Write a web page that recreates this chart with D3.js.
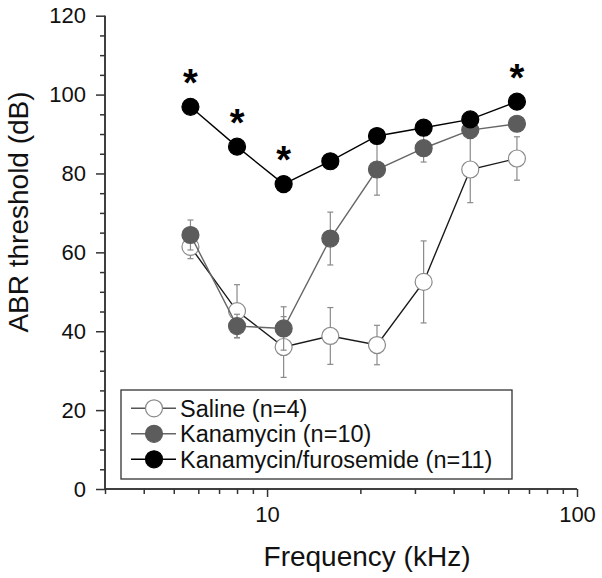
<!DOCTYPE html>
<html>
<head>
<meta charset="utf-8">
<script src="https://cdn.jsdelivr.net/npm/d3@7"></script>
<style>
  html, body { margin: 0; padding: 0; background: #fff; }
  svg { display: block; font-family: "Liberation Sans", Arial, sans-serif; }
</style>
</head>
<body>
<svg id="chart" width="602" height="578"></svg>
<script>
// ---- data ----
const frequencies = [5.66, 8, 11.31, 16, 22.63, 32, 45.25, 64];
const salineMean = [61.4, 45.1, 36.0, 38.8, 36.5, 52.5, 81.0, 83.8];
const salineErr  = [3.0, 6.7, 7.7, 7.2, 5.0, 10.4, 8.4, 5.5];
const kanaMean   = [64.4, 41.3, 40.7, 63.5, 81.0, 86.4, 91.0, 92.6];
const kanaErr    = [3.8, 3.0, 5.5, 6.7, 6.5, 3.5, 2.0, 1.5];
const kfMean     = [96.9, 86.8, 77.3, 83.1, 89.5, 91.6, 93.7, 98.2];
const kfErr      = [1.0, 1.0, 1.0, 1.0, 1.0, 1.0, 1.0, 1.0];
const significant = [5.66, 8, 11.31, 64];
const seriesNames = ["Saline (n=4)", "Kanamycin (n=10)", "Kanamycin/furosemide (n=11)"];
const yTicks = [0, 20, 40, 60, 80, 100, 120];
const xMajorTicks = [10, 100];

const series = [
  {name: seriesNames[0], mean: salineMean, err: salineErr, fill: "#ffffff", stroke: "#8a8a8a", line: "#1a1a1a", legendLine: "#555"},
  {name: seriesNames[1], mean: kanaMean, err: kanaErr, fill: "#5c5c5c", stroke: "#5c5c5c", line: "#666666", legendLine: "#666666"},
  {name: seriesNames[2], mean: kfMean, err: kfErr, fill: "#000000", stroke: "#000000", line: "#000000", legendLine: "#000000"}
];

const svg = d3.select("#chart");
const x = d3.scaleLog().domain([3, 100]).range([105, 577]);
const y = d3.scaleLinear().domain([0, 120]).range([489, 15.7]);
const axisColor = "#333";

// ---- axes ----
const minorX = [];
for (let d = 3; d < 100; d++) {
  if ((d < 10) || (d % 10 === 0 && d > 10)) minorX.push(d);
}
const xAxisMinor = d3.axisBottom(x).tickValues(minorX).tickSize(5).tickFormat("");
const xAxisMajor = d3.axisBottom(x).tickValues(xMajorTicks).tickSize(8).tickPadding(9).tickFormat(d3.format("d"));
const gxm = svg.append("g").attr("transform", `translate(0,${y(0)})`).call(xAxisMinor);
const gx = svg.append("g").attr("transform", `translate(0,${y(0)})`).call(xAxisMajor);
[gxm, gx].forEach(g => {
  g.select(".domain").attr("stroke", axisColor).attr("stroke-width", 1.5).attr("d", `M105,0H577`);
  g.selectAll(".tick line").attr("stroke", axisColor).attr("stroke-width", 1.5);
});
gx.selectAll(".tick text").attr("font-size", 22).attr("fill", "#111").attr("font-family", "Liberation Sans, Arial, sans-serif");

const minorY = d3.range(0, 121, 5).filter(v => v % 20 !== 0);
const yAxisMinor = d3.axisLeft(y).tickValues(minorY).tickSize(5).tickFormat("");
const yAxisMajor = d3.axisLeft(y).tickValues(yTicks).tickSize(9).tickPadding(10);
const gym = svg.append("g").attr("transform", `translate(${x(3)},0)`).call(yAxisMinor);
const gy = svg.append("g").attr("transform", `translate(${x(3)},0)`).call(yAxisMajor);
[gym, gy].forEach(g => {
  g.select(".domain").attr("stroke", axisColor).attr("stroke-width", 1.5).attr("d", `M0,${y(0)}V${y(120)}`);
  g.selectAll(".tick line").attr("stroke", axisColor).attr("stroke-width", 1.5);
});
gy.selectAll(".tick text").attr("font-size", 22).attr("fill", "#111").attr("font-family", "Liberation Sans, Arial, sans-serif");

// axis titles
svg.append("text").attr("x", 367).attr("y", 566).attr("text-anchor", "middle")
  .attr("font-size", 28).attr("fill", "#111").text("Frequency (kHz)");
svg.append("text").attr("transform", `translate(28,212) rotate(-90)`).attr("text-anchor", "middle")
  .attr("font-size", 28).attr("fill", "#111").text("ABR threshold (dB)");

// ---- series ----
const line = d3.line().x((d, i) => x(frequencies[i])).y(d => y(d));
series.forEach(s => {
  const g = svg.append("g");
  frequencies.forEach((f, i) => {
    const cx = x(f), top = y(s.mean[i] + s.err[i]), bot = y(s.mean[i] - s.err[i]);
    g.append("line").attr("x1", cx).attr("x2", cx).attr("y1", top).attr("y2", bot)
      .attr("stroke", "#8a8a8a").attr("stroke-width", 1.2);
    [top, bot].forEach(yy => g.append("line").attr("x1", cx - 3).attr("x2", cx + 3).attr("y1", yy).attr("y2", yy)
      .attr("stroke", "#8a8a8a").attr("stroke-width", 1.2));
  });
  g.append("path").attr("d", line(s.mean)).attr("fill", "none").attr("stroke", s.line).attr("stroke-width", 1.4);
  g.selectAll("circle").data(s.mean).join("circle")
    .attr("cx", (d, i) => x(frequencies[i])).attr("cy", d => y(d)).attr("r", 8.5)
    .attr("fill", s.fill).attr("stroke", s.stroke).attr("stroke-width", 1.2);
});

// asterisks
svg.selectAll("text.star").data(significant).join("text").attr("class", "star")
  .attr("x", d => x(d)).attr("y", d => y(kfMean[frequencies.indexOf(d)]) - 11)
  .attr("text-anchor", "middle").attr("font-size", 38).attr("font-weight", "bold").attr("fill", "#000").text("*");

// ---- legend ----
const lg = svg.append("g");
lg.append("rect").attr("x", 121).attr("y", 390).attr("width", 391).attr("height", 89)
  .attr("fill", "#fff").attr("stroke", "#333").attr("stroke-width", 1.3);
series.forEach((s, i) => {
  const cy = 408.3 + i * 25.5;
  lg.append("line").attr("x1", 131).attr("x2", 176).attr("y1", cy).attr("y2", cy)
    .attr("stroke", s.legendLine).attr("stroke-width", 1.4);
  lg.append("circle").attr("cx", 154).attr("cy", cy).attr("r", 8.5)
    .attr("fill", s.fill).attr("stroke", s.stroke).attr("stroke-width", 1.2);
  lg.append("text").attr("x", 180).attr("y", cy).attr("dy", "0.36em")
    .attr("font-size", 23.5).attr("fill", "#111").text(s.name);
});
</script>
</body>
</html>
